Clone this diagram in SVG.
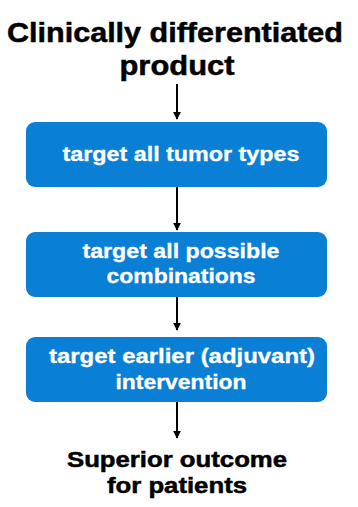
<svg xmlns="http://www.w3.org/2000/svg" width="358" height="507" viewBox="0 0 358 507">
<defs>
<marker id="ah" viewBox="0 0 10 10" refX="9" refY="5" markerWidth="4" markerHeight="4" orient="auto" markerUnits="strokeWidth"><path d="M0,0 L10,5 L0,10 z" fill="#000"/></marker>
<style>
.box{fill:#0a7fd6;}
.t{font-family:"Liberation Sans",Arial,sans-serif;font-weight:bold;text-anchor:middle;}
.w{fill:#fff;font-size:20px;stroke:#fff;stroke-width:0.3;}
.k{fill:#000;stroke:#000;stroke-width:0.5;}
.c{stroke:#000;stroke-width:2;fill:none;marker-end:url(#ah);}
</style>
</defs>
<g id="title">
<text class="t k" x="175" y="42" font-size="28" textLength="336" lengthAdjust="spacingAndGlyphs">Clinically differentiated</text>
<text class="t k" x="177" y="75" font-size="28" textLength="115" lengthAdjust="spacingAndGlyphs">product</text>
</g>
<g id="n1">
<rect class="box" x="26" y="122" width="301" height="65" rx="9"/>
<text class="t w" x="181" y="161" textLength="237" lengthAdjust="spacingAndGlyphs">target all tumor types</text>
</g>
<g id="n2">
<rect class="box" x="26" y="232" width="301" height="65" rx="9"/>
<text class="t w" x="181" y="258" textLength="197" lengthAdjust="spacingAndGlyphs">target all possible</text>
<text class="t w" x="181" y="283" textLength="149" lengthAdjust="spacingAndGlyphs">combinations</text>
</g>
<g id="n3">
<rect class="box" x="26" y="337" width="301" height="65" rx="9"/>
<text class="t w" x="182" y="363" textLength="266" lengthAdjust="spacingAndGlyphs">target earlier (adjuvant)</text>
<text class="t w" x="181" y="389" textLength="131" lengthAdjust="spacingAndGlyphs">intervention</text>
</g>
<g id="outcome">
<text class="t k" x="177" y="467" font-size="22" textLength="220" lengthAdjust="spacingAndGlyphs">Superior outcome</text>
<text class="t k" x="177" y="493" font-size="22" textLength="140" lengthAdjust="spacingAndGlyphs">for patients</text>
</g>
<g id="connectors">
<line class="c" x1="177" y1="84" x2="177" y2="119"/>
<line class="c" x1="177" y1="187" x2="177" y2="230"/>
<line class="c" x1="177" y1="297" x2="177" y2="330"/>
<line class="c" x1="177" y1="402" x2="177" y2="438"/>
</g>
</svg>
